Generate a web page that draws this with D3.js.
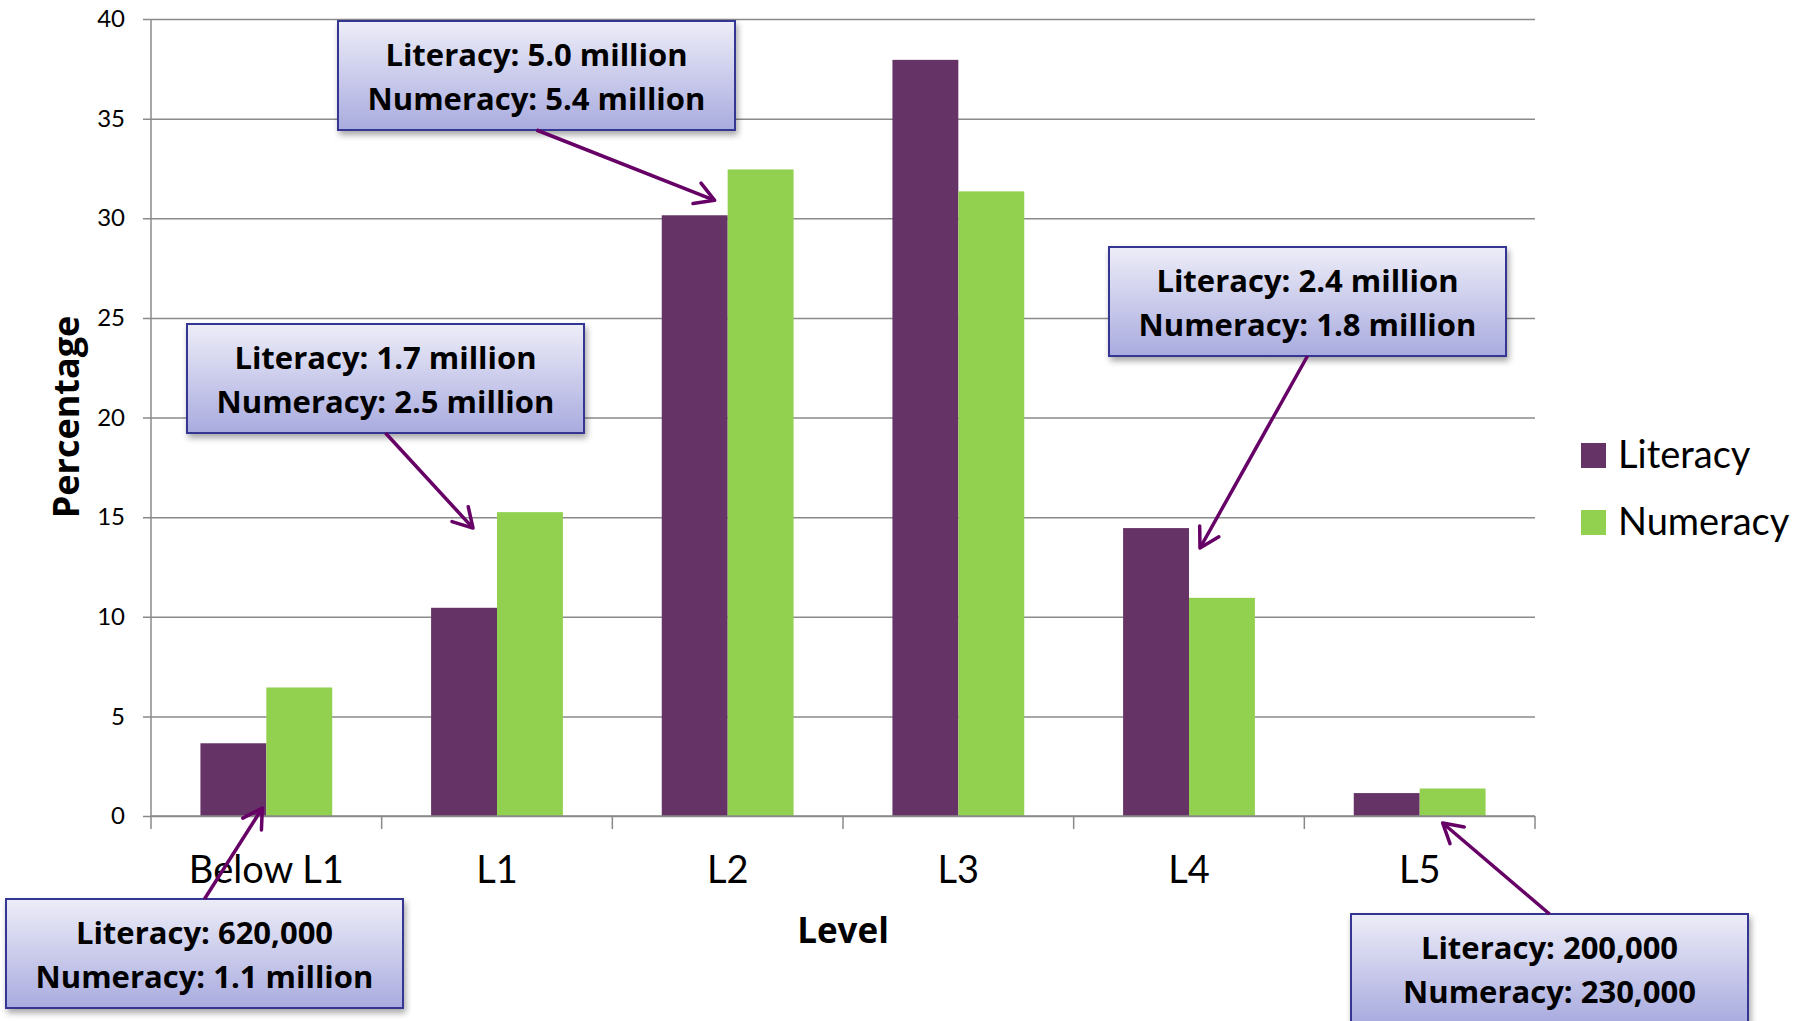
<!DOCTYPE html>
<html>
<head>
<meta charset="utf-8">
<script src="https://cdn.jsdelivr.net/npm/d3@7"></script>
<style>
  html, body { margin: 0; padding: 0; background: #fff; }
  svg { display: block; font-family: Lato, "Open Sans", sans-serif; }
</style>
</head>
<body>
<svg id="chart" width="1812" height="1021"></svg>
<script>
// Chart data
const levels = ["Below L1", "L1", "L2", "L3", "L4", "L5"];
const literacy = [3.65, 10.45, 30.15, 37.95, 14.45, 1.15];
const numeracy = [6.45, 15.25, 32.45, 31.35, 10.95, 1.38];
const seriesNames = ["Literacy", "Numeracy"];
const seriesColors = ["#663366", "#92d050"];
const yTicks = [0, 5, 10, 15, 20, 25, 30, 35, 40];

// Callout labels: text lines, the bar group they point to, and where the tip lands
const calloutLines = [
  ["Literacy: 620,000", "Numeracy: 1.1 million"],
  ["Literacy: 1.7 million", "Numeracy: 2.5 million"],
  ["Literacy: 5.0 million", "Numeracy: 5.4 million"],
  ["Literacy: 2.4 million", "Numeracy: 1.8 million"],
  ["Literacy: 200,000", "Numeracy: 230,000"]
];
const calloutLevel = ["Below L1", "L1", "L2", "L4", "L5"];
const calloutTipValue = [0.4, 14.45, 30.9, 13.45, -0.35];
const calloutTipDx = [-4, -24, -13, 11, 23];
// box placement (layout), and whether the arrow leaves from the top or bottom edge
const calloutBox = [[6, 899], [187, 324], [338, 21], [1109, 247], [1351, 914]];
const calloutFromTop = [true, false, false, false, true];

const margin = { top: 19, left: 151, right: 277, bottom: 205 };
const width = 1812 - margin.left - margin.right;
const height = 1021 - margin.top - margin.bottom;
const boxW = 397, boxH = 109;
const boldFont = "'Open Sans', Lato, sans-serif";

document.addEventListener("DOMContentLoaded", function () {
  const svg = d3.select("#chart");

  const defs = svg.append("defs");
  const grad = defs.append("linearGradient")
    .attr("id", "boxFill").attr("x1", 0).attr("y1", 0).attr("x2", 0).attr("y2", 1);
  grad.append("stop").attr("offset", "0%").attr("stop-color", "#ededf8");
  grad.append("stop").attr("offset", "100%").attr("stop-color", "#a9abdf");

  const shadow = defs.append("filter").attr("id", "shadow")
    .attr("x", "-10%").attr("y", "-10%").attr("width", "130%").attr("height", "140%");
  shadow.append("feDropShadow")
    .attr("dx", 2).attr("dy", 4).attr("stdDeviation", 3)
    .attr("flood-color", "#000").attr("flood-opacity", 0.35);

  defs.append("marker")
    .attr("id", "arrowHead")
    .attr("markerUnits", "userSpaceOnUse")
    .attr("viewBox", "-24 -14 28 28")
    .attr("markerWidth", 28).attr("markerHeight", 28)
    .attr("refX", 0).attr("refY", 0)
    .attr("orient", "auto")
    .append("path")
    .attr("d", "M-19,-11 L0,0 L-19,11")
    .attr("fill", "none")
    .attr("stroke", "#660066")
    .attr("stroke-width", 3.5)
    .attr("stroke-linecap", "round")
    .attr("stroke-linejoin", "round");

  const g = svg.append("g").attr("transform", `translate(${margin.left},${margin.top})`);

  const x = d3.scaleBand().domain(levels).range([0, width]);
  const xInner = d3.scaleBand().domain(seriesNames).range([0, x.bandwidth()]).paddingOuter(0.75);
  const y = d3.scaleLinear().domain([0, 40]).range([height, 0]);

  // gridlines + y ticks
  const yAxis = g.append("g")
    .call(d3.axisLeft(y).tickValues(yTicks).tickSize(0).tickPadding(26));
  yAxis.select(".domain").remove();
  yAxis.selectAll(".tick line")
    .attr("x1", -8).attr("x2", width)
    .attr("stroke", "#8a8a8a").attr("stroke-width", 1.5);
  yAxis.selectAll(".tick text")
    .attr("font-size", 24).attr("fill", "#000")
    .attr("font-family", "Lato, sans-serif");

  // y axis line
  g.append("line")
    .attr("x1", 0).attr("x2", 0).attr("y1", 0).attr("y2", height)
    .attr("stroke", "#8a8a8a").attr("stroke-width", 1.5);

  // bars
  const groups = g.selectAll(".group")
    .data(levels)
    .join("g")
    .attr("transform", (d) => `translate(${x(d)},0)`);

  groups.selectAll("rect")
    .data((d, i) => [literacy[i], numeracy[i]].map((v, j) => ({ key: seriesNames[j], value: v })))
    .join("rect")
    .attr("x", (d) => xInner(d.key))
    .attr("width", xInner.bandwidth())
    .attr("y", (d) => y(d.value))
    .attr("height", (d) => height - y(d.value))
    .attr("fill", (d, j) => seriesColors[j]);

  // x axis line and category boundary ticks
  g.append("line")
    .attr("x1", 0).attr("x2", width).attr("y1", height).attr("y2", height)
    .attr("stroke", "#8a8a8a").attr("stroke-width", 1.5);
  const bounds = levels.map((d) => x(d)).concat([x.range()[1]]);
  g.selectAll(".xtick")
    .data(bounds)
    .join("line")
    .attr("x1", (d) => d).attr("x2", (d) => d)
    .attr("y1", height).attr("y2", height + 13)
    .attr("stroke", "#8a8a8a").attr("stroke-width", 1.5);

  g.selectAll(".xlabel")
    .data(levels)
    .join("text")
    .attr("x", (d) => x(d) + x.bandwidth() / 2)
    .attr("y", height + 67)
    .attr("text-anchor", "middle")
    .attr("font-size", 38)
    .attr("fill", "#000")
    .text((d) => d);

  // axis titles
  svg.append("text")
    .attr("transform", "translate(79,417) rotate(-90)")
    .attr("text-anchor", "middle")
    .attr("font-family", boldFont)
    .attr("font-size", 36)
    .attr("font-weight", 700)
    .text("Percentage");

  svg.append("text")
    .attr("x", 843).attr("y", 943)
    .attr("text-anchor", "middle")
    .attr("font-family", boldFont)
    .attr("font-size", 35)
    .attr("font-weight", 700)
    .text("Level");

  // legend
  const legend = svg.append("g").attr("transform", "translate(1581,443)");
  seriesNames.forEach((name, i) => {
    legend.append("rect")
      .attr("x", 0).attr("y", i * 67)
      .attr("width", 25).attr("height", 25)
      .attr("fill", seriesColors[i]);
    legend.append("text")
      .attr("x", 37).attr("y", i * 67 + 25)
      .attr("font-size", 38)
      .attr("fill", "#000")
      .text(name);
  });

  // callouts
  calloutLines.forEach((lines, i) => {
    const [bx, by] = calloutBox[i];
    const startX = bx + boxW / 2;
    const startY = calloutFromTop[i] ? by : by + boxH;
    const tipX = margin.left + x(calloutLevel[i]) + x.bandwidth() / 2 + calloutTipDx[i];
    const tipY = margin.top + y(calloutTipValue[i]);

    const box = svg.append("g");
    box.append("rect")
      .attr("x", bx).attr("y", by)
      .attr("width", boxW).attr("height", boxH)
      .attr("fill", "url(#boxFill)")
      .attr("stroke", "#363694")
      .attr("stroke-width", 2)
      .attr("filter", "url(#shadow)");
    lines.forEach((t, k) => {
      box.append("text")
        .attr("x", startX)
        .attr("y", by + 45 + k * 44)
        .attr("text-anchor", "middle")
        .attr("font-family", boldFont)
        .attr("font-size", 31)
        .attr("font-weight", 700)
        .attr("fill", "#000")
        .text(t);
    });

    svg.append("line")
      .attr("x1", startX).attr("y1", startY)
      .attr("x2", tipX).attr("y2", tipY)
      .attr("stroke", "#660066")
      .attr("stroke-width", 3.5)
      .attr("marker-end", "url(#arrowHead)");
  });
});
</script>
</body>
</html>
